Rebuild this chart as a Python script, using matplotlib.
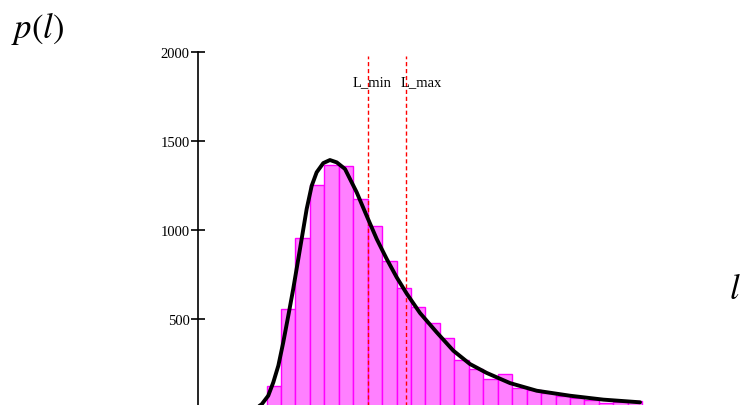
import matplotlib.pyplot as plt

plt.rcParams["mathtext.fontset"] = "stix"

# histogram: bin left edges (width 1) and counts
bin_left = list(range(0, 26))
counts = [122, 554, 953, 1253, 1365, 1358, 1174, 1021, 826, 672, 567, 477, 393,
          268, 219, 163, 191, 113, 102, 86, 69, 58, 44, 28, 34, 42]

# fitted density curve
curve_l = [-0.70, -0.33, 0.12, 0.47, 0.82, 1.16, 1.51, 1.85, 2.20, 2.51, 2.78,
           3.13, 3.47, 3.93, 4.39, 4.86, 5.43, 6.24, 6.93, 7.63, 8.32, 9.01,
           9.70, 10.62, 11.78, 12.93, 14.08, 15.24, 16.85, 18.70, 21.00, 23.31,
           25.85]
curve_p = [0, 21, 69, 144, 238, 369, 519, 669, 837, 987, 1118,
           1249, 1324, 1376, 1393, 1380, 1343, 1212, 1080, 949, 837, 734,
           643, 534, 425, 322, 247, 197, 140, 97, 69, 47,
           32]

L_min = 7.05
L_max = 9.65
yticks = [500, 1000, 1500, 2000]

fig = plt.figure(figsize=(7.41, 4.06), dpi=100)
W, H = 741, 406
# axes placed in pixels: y axis at x=198, 2000 at y=53, 0 at y=409
x0, x1 = 198, 700
y_top, y_zero = 53, 409
ax = fig.add_axes([x0 / W, 1 - y_zero / H, (x1 - x0) / W, (y_zero - y_top) / H])

px_per_bin = 14.45
xmin = -68.5 / px_per_bin
ax.set_xlim(xmin, xmin + (x1 - x0) / px_per_bin)
ax.set_ylim(0, 2000)

ax.bar(bin_left, counts, width=1, align="edge", color="#ff80ff",
       edgecolor="#ff00ff", linewidth=1.0, zorder=2)
ax.plot(curve_l, curve_p, color="black", linewidth=2.8, zorder=4,
        solid_capstyle="round", solid_joinstyle="round")

for xv, name, dx in [(L_min, "L_min", -1.1), (L_max, "L_max", -0.4)]:
    ax.plot([xv, xv], [0, 1980], color="red", linewidth=1.0,
            linestyle=(0, (3, 2)), zorder=3)
    ax.text(xv + dx, 1835, name, fontsize=10.5, family="Liberation Serif",
            ha="left", va="center")

for s in ["top", "right", "bottom"]:
    ax.spines[s].set_visible(False)
ax.spines["left"].set_linewidth(1.2)
ax.set_xticks([])
ax.set_yticks(yticks)
ax.set_yticklabels([str(v) for v in yticks], family="Liberation Serif", fontsize=10.5)
ax.tick_params(axis="y", direction="inout", length=10, width=1.2, pad=1)

fig.text(11 / W, 1 - 38 / H, "$p(l)$", fontsize=25, ha="left", va="baseline")
fig.text(729 / W, 1 - 299 / H, "$l$", fontsize=25, ha="left", va="baseline")

fig.savefig("out.png", dpi=100)
